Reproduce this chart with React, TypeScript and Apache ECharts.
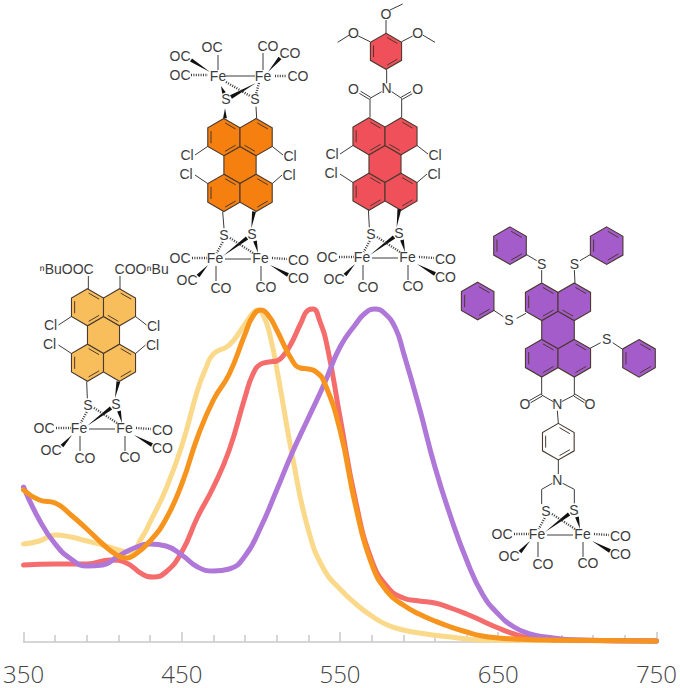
import React, { useEffect, useRef } from "react";
import * as echarts from "echarts";

// --- Axis ---
const minorTicks = [370, 390, 410, 430, 470, 490, 510, 530, 570, 590, 610, 630, 670, 690, 710, 730];
const majorTicks = [350, 450, 550, 650, 750];

// --- Spectra (wavelength nm / relative absorbance) ---
const yellowX = [350, 360, 370, 380, 390, 400, 410, 417, 425, 430, 440, 450, 460, 465, 470, 480, 490, 495, 498, 502, 506, 511, 520, 530, 540, 550, 560, 570, 580, 590, 600, 620, 640, 750];
const yellowY = [98, 101, 107, 105, 101, 97, 92, 90, 105, 120, 153, 196, 252, 273, 288, 297, 318, 329, 332, 325, 305, 265, 185, 112, 72, 53, 38, 26, 17, 12, 9, 5, 2, 1];
const redX = [350, 370, 390, 405, 415, 425, 432, 440, 450, 460, 470, 480, 490, 495, 500, 505, 510, 515, 520, 525, 530, 533, 537, 542, 550, 560, 570, 580, 590, 600, 610, 620, 630, 640, 650, 660, 670, 690, 750];
const redY = [77, 78, 78, 82, 79, 68, 65, 70, 90, 125, 155, 192, 245, 268, 278, 280, 281, 288, 301, 318, 332, 333, 322, 295, 225, 140, 82, 55, 44, 41, 39, 34, 28, 21, 14, 8, 4, 2, 1];
const purpleX = [350, 360, 370, 380, 390, 400, 410, 420, 430, 440, 450, 460, 470, 480, 490, 500, 510, 520, 530, 540, 550, 560, 566, 572, 578, 585, 590, 600, 610, 620, 630, 640, 650, 660, 670, 680, 700, 750];
const purpleY = [155, 122, 98, 83, 76, 77, 86, 94, 98, 96, 87, 75, 71, 73, 86, 115, 152, 190, 224, 258, 295, 318, 329, 333, 329, 314, 290, 235, 175, 125, 82, 48, 28, 15, 8, 5, 2, 1];
const orangeX = [350, 360, 370, 380, 390, 400, 410, 415, 420, 430, 440, 450, 460, 470, 480, 490, 495, 500, 505, 510, 520, 525, 530, 535, 540, 550, 560, 570, 580, 590, 600, 610, 620, 630, 640, 650, 660, 680, 750];
const orangeY = [152, 142, 139, 127, 113, 98, 86, 84, 87, 101, 123, 158, 205, 242, 268, 308, 326, 332, 326, 312, 281, 274, 273, 270, 260, 212, 135, 78, 50, 37, 28, 21, 15, 10, 6, 4, 3, 2, 1];

const zip = (xs: number[], ys: number[]) => xs.map((x, i) => [x, ys[i]]);

// --- Molecule drawing helpers ---
const INK = "#3c3c3c";
const FONT = "'Liberation Sans', Arial, sans-serif";
const els: any[] = [];

const label = (text: string, x: number, y: number, size = 14) =>
  els.push({ type: "text", z: 10, x, y, style: { text, fontSize: size, fontFamily: FONT, fill: INK, align: "center", verticalAlign: "middle" } });
const bond = (x1: number, y1: number, x2: number, y2: number, width = 1) =>
  els.push({ type: "line", z: 9, shape: { x1, y1, x2, y2 }, style: { stroke: INK, lineWidth: width } });
const hash = (x1: number, y1: number, x2: number, y2: number) =>
  els.push({ type: "line", z: 9, shape: { x1, y1, x2, y2 }, style: { stroke: INK, lineWidth: 2.4, lineDash: [1, 1.4] } });
const wedge = (x1: number, y1: number, x2: number, y2: number, w = 1.9) => {
  const dx = x2 - x1, dy = y2 - y1, d = Math.hypot(dx, dy) || 1;
  const nx = (-dy / d) * w, ny = (dx / d) * w;
  els.push({ type: "polygon", z: 9, shape: { points: [[x1, y1], [x2 + nx, y2 + ny], [x2 - nx, y2 - ny]] }, style: { fill: "#111" } });
};
const dbl = (x1: number, y1: number, x2: number, y2: number) => {
  const dx = x2 - x1, dy = y2 - y1, d = Math.hypot(dx, dy) || 1;
  const nx = (-dy / d) * 1.2, ny = (dx / d) * 1.2;
  bond(x1 + nx, y1 + ny, x2 + nx, y2 + ny);
  bond(x1 - nx, y1 - ny, x2 - nx, y2 - ny);
};
const vert = (cx: number, cy: number, R: number, i: number) => {
  const a = ((-90 + 60 * i) * Math.PI) / 180;
  return [cx + R * Math.cos(a), cy + R * Math.sin(a)];
};
const ring = (cx: number, cy: number, R: number, fill: string, inner: number[]) => {
  const pts = [0, 1, 2, 3, 4, 5].map((i) => vert(cx, cy, R, i));
  els.push({ type: "polygon", z: 8, shape: { points: pts }, style: { fill, stroke: "#4a3a30", lineWidth: 1.1 } });
  inner.forEach((e) => {
    const a = vert(cx, cy, R * 0.8, e), b = vert(cx, cy, R * 0.8, (e + 1) % 6);
    const mx = (a[0] + b[0]) / 2, my = (a[1] + b[1]) / 2, k = 0.82;
    els.push({
      type: "line", z: 9,
      shape: { x1: mx + (a[0] - mx) * k, y1: my + (a[1] - my) * k, x2: mx + (b[0] - mx) * k, y2: my + (b[1] - my) * k },
      style: { stroke: "#4a3a30", lineWidth: 1 },
    });
  });
};
const core = (cx: number, cy: number, R: number, fill: string) => {
  const w = Math.sqrt(3) * R;
  ring(cx, cy, R, fill, []);
  ring(cx - w / 2, cy - 1.5 * R, R, fill, [4, 0, 2]);
  ring(cx + w / 2, cy - 1.5 * R, R, fill, [0, 3]);
  ring(cx - w / 2, cy + 1.5 * R, R, fill, [4, 0, 2]);
  ring(cx + w / 2, cy + 1.5 * R, R, fill, [0, 2]);
};
const chlorines = (cx: number, cy: number, R: number) => {
  const w = Math.sqrt(3) * R;
  label("Cl", cx - 53, cy - 10);
  label("Cl", cx + 50, cy - 9);
  label("Cl", cx - 54, cy + 9);
  label("Cl", cx + 49, cy + 10);
  bond(cx - w, cy - R, cx - 45, cy - 10);
  bond(cx + w, cy - R, cx + 43, cy - 10);
  bond(cx - w, cy + R, cx - 45, cy + 10);
  bond(cx + w, cy + R, cx + 42, cy + 10);
};
const clusterBelow = (x: number, y: number) => {
  label("Fe", x, y); label("Fe", x + 45.5, y);
  label("S", x + 9, y - 23); label("S", x + 37, y - 24);
  label("OC", x - 35, y); label("OC", x - 28, y + 22); label("CO", x + 6, y + 30);
  label("CO", x + 83.5, y + 1.5); label("CO", x + 83.5, y + 20); label("CO", x + 51, y + 29);
  bond(x + 10, y + 1, x + 36, y + 1);
  hash(x + 7.7, y - 16, x + 1.7, y - 5);
  wedge(x + 8, y - 2, x + 32, y - 20);
  hash(x + 15, y - 20, x + 38, y - 5);
  wedge(x + 43, y - 5, x + 40, y - 17);
  bond(x + 1, y + 8, x + 1, y + 23);
  bond(x + 46, y + 8, x + 46, y + 23);
  hash(x - 23, y, x - 8, y);
  hash(x + 57, y, x + 72, y + 1);
  wedge(x - 7, y + 7, x - 17, y + 18);
  wedge(x + 55, y + 7, x + 73, y + 17);
};
const clusterAbove = (x: number, y: number) => {
  label("Fe", x, y); label("Fe", x + 45, y);
  label("S", x + 8, y + 23); label("S", x + 37, y + 23);
  label("OC", x - 6, y - 29); label("OC", x - 38, y - 20); label("OC", x - 38, y - 1);
  label("CO", x + 50, y - 30); label("CO", x + 72, y - 23); label("CO", x + 80, y);
  bond(x + 8, y, x + 37, y);
  wedge(x + 3, y + 10, x + 6, y + 17);
  hash(x + 41, y + 7, x + 38, y + 18);
  wedge(x + 38, y + 7, x + 13, y + 21);
  hash(x + 8, y + 6, x + 32, y + 20);
  bond(x, y - 21, x, y - 6);
  bond(x + 45, y - 23, x + 45, y - 6);
  hash(x - 27, y - 1, x - 10, y - 1);
  hash(x + 57, y, x + 69, y);
  wedge(x - 8, y - 4, x - 27, y - 16);
  wedge(x + 50, y - 4, x + 62, y - 18);
};
const zoomed = (ox: number, oy: number) => ({
  t: (s: string, x: number, y: number, size = 14) => label(s, ox + x / 3, oy + y / 3, size),
  b: (a: number, b: number, c: number, d: number) => bond(ox + a / 3, oy + b / 3, ox + c / 3, oy + d / 3),
  d: (a: number, b: number, c: number, d: number) => dbl(ox + a / 3, oy + b / 3, ox + c / 3, oy + d / 3),
  w: (a: number, b: number, c: number, d: number) => wedge(ox + a / 3, oy + b / 3, ox + c / 3, oy + d / 3),
  r: (x: number, y: number, R: number, fill: string) => ring(ox + x / 3, oy + y / 3, R, fill, [0, 2, 4]),
});

// Yellow: butyl ester compound
const drawYellow = () => {
  const c = "#F9BE5C";
  core(103.5, 335, 18.5, c);
  chlorines(103.5, 335, 18.5);
  clusterBelow(79, 428);
  const z = zoomed(20, 250);
  z.t("ⁿBuOOC", 140, 58); z.t("COOⁿBu", 365, 58);
  z.b(205, 117, 205, 78); z.b(300, 117, 300, 78);
  z.b(200, 395, 202, 445); z.w(285, 445, 295, 395);
};
// Orange: two clusters
const drawOrange = () => {
  const c = "#F57F0F";
  core(240, 165, 18.6, c);
  chlorines(240, 165, 18.6);
  clusterAbove(218, 76);
  clusterBelow(215, 258);
  const z = zoomed(150, 0);
  z.w(225, 325, 225, 355); z.b(320, 355, 318, 320);
  z.b(218, 635, 222, 685); z.w(304, 685, 312, 635);
};
// Red: trimethoxyphenyl imide
const drawRed = () => {
  const c = "#F0505A";
  core(385, 164, 18.5, c);
  chlorines(385, 164, 18.5);
  clusterBelow(362, 257);
  const z = zoomed(310, 0);
  z.b(175, 628, 178, 682); z.w(260, 682, 268, 628);
  z.b(180, 352, 180, 295); z.b(275, 352, 275, 295);
  z.d(180, 295, 150, 277); z.d(275, 295, 305, 278);
  z.b(180, 295, 215, 275); z.b(245, 275, 275, 295);
  z.t("O", 130, 268); z.t("N", 230, 265); z.t("O", 323, 268);
  z.b(230, 250, 230, 208);
  z.r(228, 154, 18, c);
  z.t("O", 228, 42); z.t("O", 130, 98); z.t("O", 323, 98);
  z.b(228, 100, 228, 60); z.b(240, 30, 278, 12);
  z.b(180, 125, 145, 108); z.b(118, 105, 83, 127);
  z.b(275, 125, 308, 108); z.b(338, 105, 375, 127);
};
// Purple: tetrakis(phenylthio) imide with azadithiolate
const drawPurple = () => {
  const c = "#A55CCB";
  core(558, 330, 18.8, c);
  clusterBelow(537, 534);
  const z = zoomed(450, 220);
  z.t("S", 275, 133); z.b(275, 188, 275, 150); z.b(260, 122, 228, 103); z.r(180, 77, 18.8, c);
  z.t("S", 373, 133); z.b(375, 190, 373, 150); z.b(390, 122, 422, 103); z.r(470, 77, 18.8, c);
  z.t("S", 177, 300); z.b(200, 295, 228, 280); z.b(160, 290, 130, 270); z.r(83, 243, 18.8, c);
  z.t("S", 470, 358); z.b(420, 385, 452, 368); z.b(488, 368, 518, 388); z.r(567, 415, 18.8, c);
  z.b(275, 470, 275, 525); z.b(373, 470, 373, 525);
  z.d(275, 525, 240, 545); z.d(373, 525, 405, 545);
  z.b(275, 525, 310, 545); z.b(335, 545, 373, 525);
  z.t("O", 225, 553); z.t("N", 322, 553); z.t("O", 420, 553);
  z.b(322, 572, 325, 610);
  z.r(325, 665, 18.3, "#ffffff");
  z.b(325, 720, 325, 762);
  z.t("N", 322, 780);
  z.b(307, 790, 275, 808); z.b(275, 808, 275, 852);
  z.b(338, 790, 373, 808); z.b(373, 808, 373, 850);
};
drawYellow();
drawOrange();
drawRed();
drawPurple();

const tickLine = { color: "#c9c9c9", width: 1.5 };
const curve = (name: string, xs: number[], ys: number[], color: string) => ({
  name,
  type: "line",
  data: zip(xs, ys),
  smooth: 0.5,
  showSymbol: false,
  clip: false,
  lineStyle: { color, width: 5, cap: "round", join: "round" },
});

export default function App() {
  const ref = useRef<HTMLDivElement>(null);
  useEffect(() => {
    const chart = echarts.init(ref.current!, null, { renderer: "svg" });
    chart.setOption({
      animation: false,
      backgroundColor: "#ffffff",
      grid: { left: 21, right: 20, top: 309, bottom: 46 },
      xAxis: [
        {
          type: "value", min: 350, max: 750, position: "bottom",
          splitLine: { show: false },
          axisLine: { show: true, onZero: false, lineStyle: tickLine },
          axisTick: { show: true, inside: true, length: 7, customValues: minorTicks, lineStyle: tickLine },
          axisLabel: { show: true, customValues: majorTicks, margin: 19, fontSize: 24, fontWeight: 300, color: "#444444", fontFamily: "'Open Sans', sans-serif", showMinLabel: true, showMaxLabel: true },
        },
        {
          type: "value", min: 350, max: 750, position: "bottom",
          splitLine: { show: false },
          axisLine: { show: false, onZero: false },
          axisTick: { show: true, inside: true, length: 10, customValues: majorTicks, lineStyle: tickLine },
          axisLabel: { show: false },
        },
      ],
      yAxis: { type: "value", min: 0, max: 333, show: false },
      graphic: { elements: els },
      series: [
        curve("Yellow", yellowX, yellowY, "#FBD98A"),
        curve("Red", redX, redY, "#F46C6C"),
        curve("Purple", purpleX, purpleY, "#AF77D8"),
        curve("Orange", orangeX, orangeY, "#F7941D"),
      ],
    });
    return () => chart.dispose();
  }, []);
  return <div ref={ref} style={{ position: "fixed", left: 0, top: 0, width: 680, height: 688 }} />;
}
